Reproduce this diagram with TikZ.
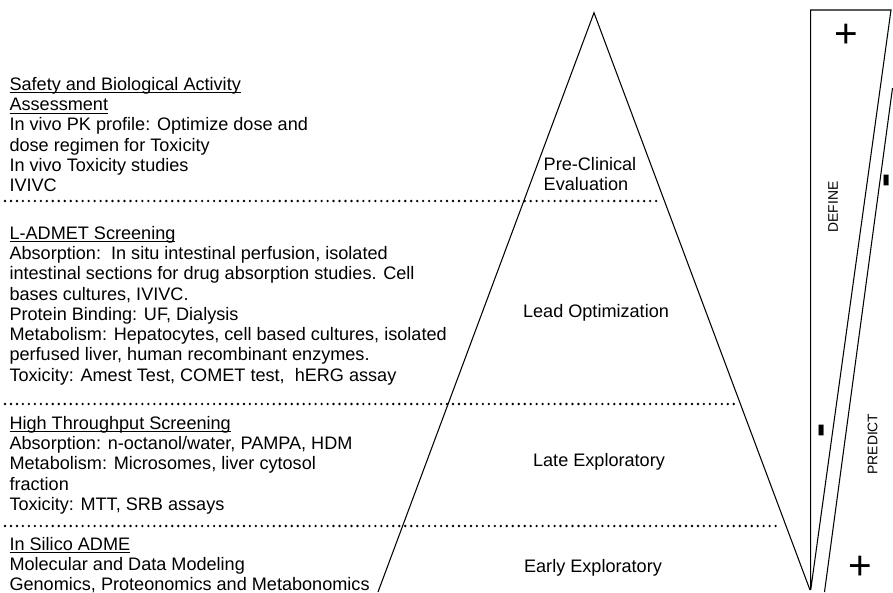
\documentclass[tikz,border=0pt]{standalone}
\usepackage{fontspec}
\setmainfont{Liberation Sans}
\usetikzlibrary{positioning}
\tikzset{stage style/.style={font=\fontsize{10.3}{11.55}\selectfont,inner sep=0,align=left,anchor=north west},
	name style/.style={font=\fontsize{10.3}{11.55}\selectfont,inner sep=0,align=left},
	dots style/.style={line width=1.5pt,line cap=round,dash pattern=on 0pt off 3.4pt},
	side style/.style={font=\fontsize{7.9}{9}\selectfont,rotate=90,inner sep=0},
	sign style/.style={font=\fontsize{23}{24}\selectfont,inner sep=0},
	bar style/.style={font=\fontsize{24}{24}\selectfont\bfseries,rotate=90,inner sep=0}}
\newcommand{\hd}[1]{\underline{\smash{#1}}}
\newcommand{\minusbar}{\raisebox{-0.18em}[0.16em][0pt]{-}}

\begin{document}
\begin{tikzpicture}[x=0.02cm,y=-0.02cm,line width=0.6pt]
	\useasboundingbox (0,0) rectangle (893,592);
	
	\coordinate (apex) at (594,12.7);
	\coordinate (pyrL) at (378,592);
	\coordinate (pyrR) at (810,590);
	
	\draw (pyrL) -- (apex) -- (pyrR); % pyramid
	
	\draw[dots style] (5,201) -- (657,201);
	\draw[dots style] (5,404) -- (739,404);
	\draw[dots style] (5,526) -- (778,526);
	
	\node[stage style] (safety) at (9,75.4) {\strut\hd{Safety and Biological Activity}\\
		\strut\hd{Assessment}\\
		\strut In vivo PK profile: Optimize dose and\\
		\strut dose regimen for Toxicity\\
		\strut In vivo Toxicity studies\\
		\strut IVIVC};
	\node[stage style] (ladmet) at (9,224.4) {\strut\hd{L-ADMET Screening}\\
		\strut Absorption:\ \ In situ intestinal perfusion, isolated\\
		\strut intestinal sections for drug absorption studies. Cell\\
		\strut bases cultures, IVIVC.\\
		\strut Protein Binding: UF, Dialysis\\
		\strut Metabolism: Hepatocytes, cell based cultures, isolated\\
		\strut perfused liver, human recombinant enzymes.\\
		\strut Toxicity: Amest Test, COMET test,\ \ hERG assay};
	\node[stage style] (hts) at (9,414.4) {\strut\hd{High Throughput Screening}\\
		\strut Absorption: n-octanol/water, PAMPA, HDM\\
		\strut Metabolism: Microsomes, liver cytosol\\
		\strut fraction\\
		\strut Toxicity: MTT, SRB assays};
	\node[stage style] (silico) at (9,535.4) {\strut\hd{In Silico ADME}\\
		\strut Molecular and Data Modeling\\
		\strut Genomics, Proteonomics and Metabonomics};
	
	\node[name style] (preclin) at (590,174) {Pre-Clinical\\Evaluation};
	\node[name style] (leadopt) at (596,313) {Lead Optimization};
	\node[name style] (lateexp) at (599,462) {Late Exploratory};
	\node[name style] (earlyexp) at (593,568) {Early Exploratory};
	
	\coordinate (defTL) at (810.7,10);
	\coordinate (defTR) at (891,10);
	\coordinate (defB) at (810.7,590);
	\coordinate (preT) at (892.5,88);
	\coordinate (preB) at (824.5,592);
	
	\draw (defB) -- (defTL) -- (defTR) -- cycle; % define wedge
	\draw (preT) -- (preB); % predict wedge
	
	\node[side style] (define) at (833,207) {DEFINE};
	\node[side style] (predict) at (872.7,444) {PREDICT};
	
	\node[sign style] (plusT) at (846.7,36) {+};
	\node[sign style] (plusB) at (860,568) {+};
	\node[bar style] (minusT) at (887,180) {\minusbar};
	\node[bar style] (minusB) at (822,430) {\minusbar};
\end{tikzpicture}
\end{document}
